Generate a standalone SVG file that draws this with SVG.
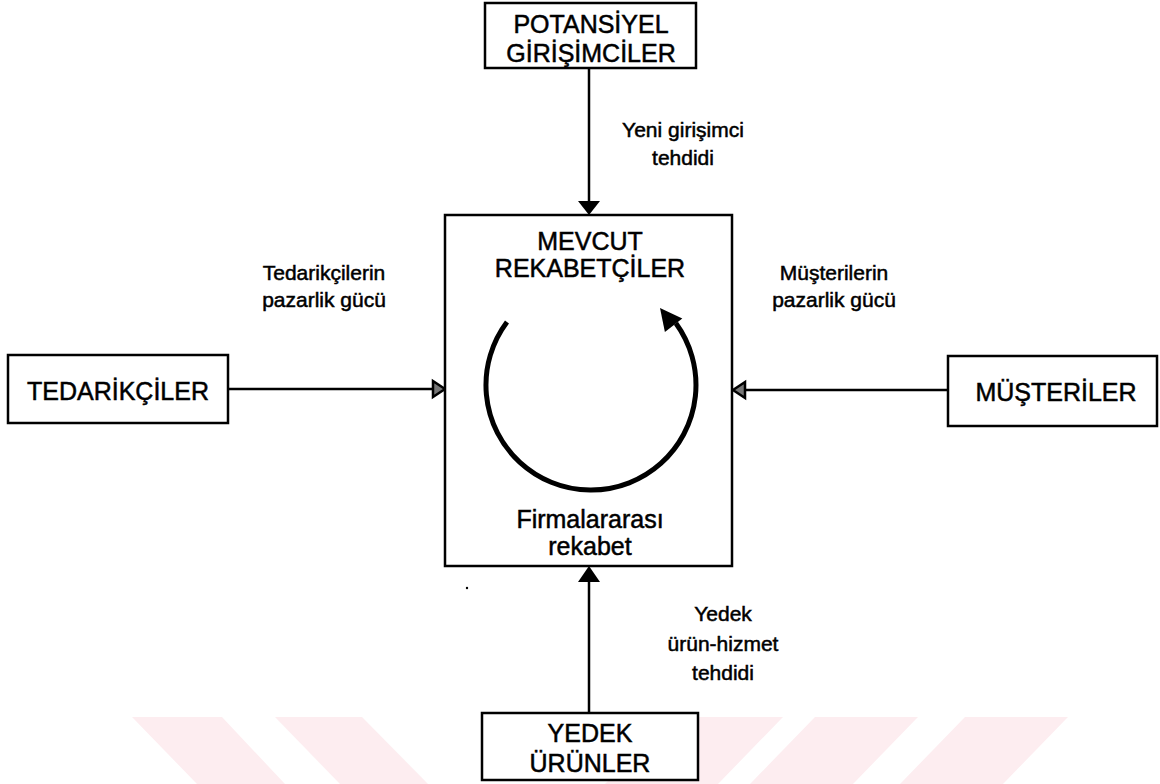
<svg xmlns="http://www.w3.org/2000/svg" width="1160" height="784" viewBox="0 0 1160 784">
<style>
.box{fill:#fff;stroke:#000;stroke-width:2.5}
.bt{font-family:"Liberation Sans",Arial,sans-serif;font-size:25px;fill:#000;stroke:#000;stroke-width:0.5;text-anchor:middle}
.lb{font-family:"Liberation Sans",Arial,sans-serif;font-size:21px;fill:#000;stroke:#000;stroke-width:0.5;text-anchor:middle}
.ln{stroke:#000;stroke-width:2.5;fill:none}
.wm{fill:#fdedf0}
</style>
<rect width="1160" height="784" fill="#fff"/>
<g id="watermark">
<polygon class="wm" points="132,717 222,717 285,784 197,784"/>
<polygon class="wm" points="275,717 362,717 428,784 340,784"/>
<polygon class="wm" points="670,717 783,717 718,784 605,784"/>
<polygon class="wm" points="815,717 918,717 853,784 750,784"/>
<polygon class="wm" points="965,717 1068,717 1003,784 900,784"/>
</g>
<g id="connectors">
<line class="ln" x1="589" y1="68" x2="589" y2="202"/>
<polygon points="578,201 600,201 589,215" fill="#000"/>
<line class="ln" x1="589" y1="713" x2="589" y2="580"/>
<polygon points="578,582 600,582 589,566" fill="#000"/>
<line class="ln" x1="228" y1="389" x2="434" y2="389"/>
<polygon points="433,381 433,397 445,389" fill="#777" stroke="#000" stroke-width="2.5"/>
<line class="ln" x1="948" y1="390" x2="744" y2="390"/>
<polygon points="745,382 745,398 733,390" fill="#777" stroke="#000" stroke-width="2.5"/>
</g>
<g id="labels">
<text class="lb" x="683" y="137">Yeni girişimci</text>
<text class="lb" x="683" y="165">tehdidi</text>
<text class="lb" x="324" y="280">Tedarikçilerin</text>
<text class="lb" x="324" y="307">pazarlik gücü</text>
<text class="lb" x="834" y="280">Müşterilerin</text>
<text class="lb" x="834" y="307">pazarlik gücü</text>
<text class="lb" x="723" y="621">Yedek</text>
<text class="lb" x="723" y="651">ürün-hizmet</text>
<text class="lb" x="723" y="680">tehdidi</text>
<circle cx="467" cy="588" r="1.2" fill="#000"/>
</g>
<g id="potansiyel">
<rect class="box" x="485" y="3" width="211" height="65"/>
<text class="bt" x="591" y="33">POTANSİYEL</text>
<text class="bt" x="591" y="62">GİRİŞİMCİLER</text>
</g>
<g id="tedarikciler">
<rect class="box" x="8" y="355" width="220" height="68"/>
<text class="bt" x="118" y="400">TEDARİKÇİLER</text>
</g>
<g id="musteriler">
<rect class="box" x="948" y="356" width="209" height="70"/>
<text class="bt" x="1056" y="401">MÜŞTERİLER</text>
</g>
<g id="mevcut">
<rect class="box" x="445" y="215" width="287" height="351"/>
<text class="bt" x="590" y="250">MEVCUT</text>
<text class="bt" x="590" y="277">REKABETÇİLER</text>
<path d="M 507 322 A 105 105 0 1 0 675.9 323.3" fill="none" stroke="#000" stroke-width="5"/>
<polygon points="660,308 682.3,318.5 664.9,332.1" fill="#000"/>
<text class="bt" x="590" y="528">Firmalararası</text>
<text class="bt" x="590" y="555">rekabet</text>
</g>
<g id="yedek">
<rect class="box" x="482" y="713" width="216" height="67"/>
<text class="bt" x="590" y="742">YEDEK</text>
<text class="bt" x="590" y="772">ÜRÜNLER</text>
</g>
</svg>
